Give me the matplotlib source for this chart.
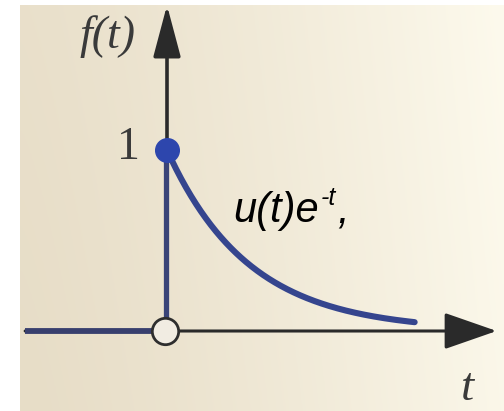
import numpy as np
import matplotlib
matplotlib.use("Agg")
import matplotlib.pyplot as plt

# Signal f(t) = u(t) e^{-t}
step_time = 0.0          # where u(t) switches on
step_value = 1.0         # f(0+) value
decay_rate = 1.0         # exponent in e^{-rate t}
t_curve_end = 3.02       # last drawn t of the decaying branch
t_left_end = -1.73       # start of the zero branch for t < 0
t_axis_tip = 4.02        # horizontal axis arrow tip
f_axis_tip = 1.80        # vertical axis arrow tip

ytick_labels = ["1"]
axis_labels = ["f(t)", "t"]
curve_label = ["u(t)e", "-t", ","]   # base, superscript, trailing comma

W, H, DPI = 504, 411, 100
fig = plt.figure(figsize=(W / DPI, H / DPI), dpi=DPI)
fig.patch.set_facecolor("white")

# paper background with a soft lighting gradient
bg = fig.add_axes([20 / W, 0, 1 - 20 / W, 1 - 5 / H])
bg.set_axis_off()
gx = np.linspace(0, 1, 200)
gy = np.linspace(0, 1, 160)
X, Y = np.meshgrid(gx, gy)
left = np.array([231, 221, 199]) / 255
right = np.array([253, 250, 237]) / 255
w = np.clip(X ** 1.3 * 0.9 + (1 - Y) * 0.10, 0, 1)[..., None]
img = left * (1 - w) + right * w
bg.imshow(img, aspect="auto", extent=[0, 1, 0, 1], origin="upper")

ax = fig.add_axes([0, 0, 1, 1])
ax.patch.set_alpha(0)
ax.set_axis_off()
# pixel mapping: t=0 at x=167 (82 px per unit), f=0 at y=331 (181 px per unit)
ax.set_xlim((0 - 167) / 82, (W - 167) / 82)
ax.set_ylim((331 - H) / 181, (331 - 0) / 181)

axis_col = "#2a2a2a"
blue = "#35458e"
dot_col = "#2d46ad"

# axes with arrowheads
ax.annotate("", xy=(t_axis_tip, 0), xytext=(t_left_end, 0),
            arrowprops=dict(arrowstyle="-|>,head_length=3.3,head_width=1.15",
                            mutation_scale=10, lw=2.2, color=axis_col,
                            shrinkA=0, shrinkB=0))
ax.annotate("", xy=(step_time, f_axis_tip), xytext=(step_time, step_value),
            arrowprops=dict(arrowstyle="-|>,head_length=3.2,head_width=0.85",
                            mutation_scale=10, lw=2.6, color=axis_col,
                            shrinkA=0, shrinkB=0))

# f(t) = 0 for t < 0
ax.plot([t_left_end, step_time], [0, 0], color="#383f6e", lw=4.2,
        solid_capstyle="butt", zorder=3)
# jump at t = 0
ax.plot([step_time - 0.01, step_time - 0.01], [0, step_value], color="#3a4478",
        lw=3.8, solid_capstyle="butt", zorder=3)
# decaying branch
t = np.linspace(step_time, t_curve_end, 300)
f = step_value * np.exp(-decay_rate * t)
ax.plot(t, f, color=blue, lw=4.4, solid_capstyle="round", zorder=3)

# closed dot at f(0+) and open circle at f(0-)
ax.plot([step_time], [step_value], "o", ms=17, color=dot_col, zorder=4)
ax.plot([step_time - 0.02], [0], "o", ms=19, mfc="#f1ece2", mec="#2e2e2e",
        mew=2.0, zorder=5)

serif = "Liberation Serif"
ax.text(-0.72, 1.625, axis_labels[0], fontsize=33, family=serif,
        style="italic", color="#3a3a3a", ha="center", va="center")
ax.text(-0.47, step_value + 0.01, ytick_labels[0], fontsize=33, family=serif,
        color="#3a3a3a", ha="center", va="center")
ax.text(3.66, -0.32, axis_labels[1], fontsize=34, family=serif,
        style="italic", color="#3a3a3a", ha="center", va="center")

# curve label: u(t)e^{-t},
sans = "Liberation Sans"
base = ax.text(0.81, 0.60, curve_label[0], fontsize=30, family=sans,
               style="italic", color="black", ha="left", va="baseline")
sup = ax.annotate(curve_label[1], xy=(1, 0.695), xycoords=(base, "data"),
                  xytext=(1.0, 0), textcoords="offset points",
                  fontsize=18, family=sans, style="italic", color="black",
                  ha="left", va="baseline")
ax.annotate(curve_label[2], xy=(1, 0.60), xycoords=(sup, "data"),
            xytext=(1.0, 0), textcoords="offset points",
            fontsize=30, family=sans, style="italic", color="black",
            ha="left", va="baseline")

fig.savefig("out.png", dpi=DPI)
